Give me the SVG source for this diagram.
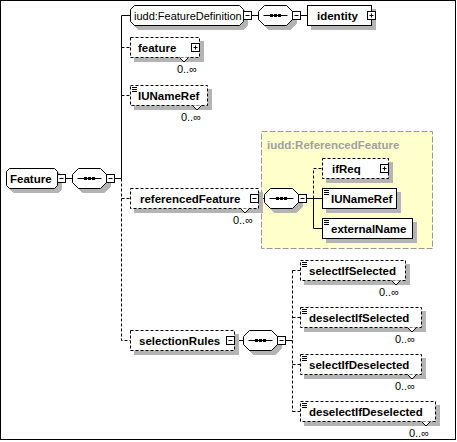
<svg xmlns="http://www.w3.org/2000/svg" width="457" height="442" viewBox="0 0 457 442">
<style>
.bx{fill:#fff;stroke:#000;stroke-width:1}
.opt{stroke-dasharray:3,2}
.sh{fill:#b4b4b4;stroke:#b4b4b4;stroke-width:1}
.ln{fill:none;stroke:#000;stroke-width:1}
.dl{stroke-dasharray:3,2}
.t{font-family:"Liberation Sans",Arial,sans-serif;font-size:11.5px;font-weight:bold;fill:#000}
.r{font-weight:normal;font-size:11px}
.occ{font-family:"Liberation Sans",Arial,sans-serif;font-size:11px;text-anchor:end;fill:#000}
.v{fill:#fff;stroke:#000;stroke-width:1}
.grp{fill:#ffffcc;stroke:#999;stroke-width:1;stroke-dasharray:6,2}
.gt{font-family:"Liberation Sans",Arial,sans-serif;font-size:11.5px;font-weight:bold;fill:#a0a0a0}
</style>
<defs>
<g id="mn"><rect x="0" y="0" width="8" height="8" fill="#fff" stroke="#000"/><path d="M2 4H6" stroke="#000"/></g>
<g id="pl"><rect x="0" y="0" width="8" height="8" fill="#fff" stroke="#000"/><path d="M2 4H6M4 2V6" stroke="#000"/></g>
<g id="seq">
<polygon class="sh" transform="translate(4,4)" points="6,0 28,0 34,6 34,14 28,20 6,20 0,14 0,6"/>
<polygon class="bx" points="6,0 28,0 34,6 34,14 28,20 6,20 0,14 0,6"/>
<path d="M5 10H29" stroke="#000"/>
<rect x="11.5" y="8.5" width="3" height="3" fill="#000"/>
<rect x="15.5" y="8.5" width="3" height="3" fill="#000"/>
<rect x="19.5" y="8.5" width="3" height="3" fill="#000"/>
</g>
<path id="eq" d="M0 0H5M0 2H5M0 4H5" stroke="#000" fill="none"/>
</defs>
<rect x="0" y="0" width="457" height="442" fill="#fff"/>
<rect x="0.5" y="0.5" width="455" height="439" fill="#fff" stroke="#000"/>

<g id="group-ReferencedFeature">
<rect class="grp" x="261.5" y="131.5" width="171" height="117"/>
<text class="gt" x="267" y="149">iudd:ReferencedFeature</text>
</g>

<g id="connectors">
<path class="ln" d="M65.5 178.5H72.5M114.5 178.5H121.5M121.5 178.5V15.5H130.5"/>
<path class="ln dl" d="M121.5 178.5V340.5H130.5M121.5 47.5H130.5M121.5 95.5H130.5M121.5 198.5H130.5"/>
<path class="ln" d="M251.5 15.5H258.5M300.5 15.5H307.5"/>
<path class="ln" d="M258.5 198.5H264.5M306.5 198.5H322.5M313.5 198.5V228.5H322.5"/>
<path class="ln dl" d="M313.5 198.5V168.5H322.5"/>
<path class="ln" d="M234.5 340.5H243.5M285.5 340.5H292.5"/>
<path class="ln dl" d="M292.5 270.5V411.5M292.5 270.5H300.5M292.5 317.5H300.5M292.5 364.5H300.5M292.5 411.5H300.5"/>
</g>

<g id="node-Feature">
<path class="sh" transform="translate(4,4)" d="M9.5 168.5H54.5L57.5 171.5V185.5L54.5 188.5H9.5L6.5 185.5V171.5Z"/>
<path class="bx" d="M9.5 168.5H54.5L57.5 171.5V185.5L54.5 188.5H9.5L6.5 185.5V171.5Z"/>
<text class="t" x="10" y="182.5">Feature</text>
<use href="#mn" x="57.5" y="174.5"/>
</g>
<g id="node-sequence-main">
<use href="#seq" x="72.5" y="168.5"/>
<use href="#mn" x="106.5" y="174.5"/>
</g>

<g id="node-FeatureDefinition">
<path class="sh" transform="translate(4,4)" d="M134.5 5.5H239.5L243.5 9.5V21.5L239.5 25.5H134.5L130.5 21.5V9.5Z"/>
<path class="bx" d="M134.5 5.5H239.5L243.5 9.5V21.5L239.5 25.5H134.5L130.5 21.5V9.5Z"/>
<text class="t r" x="134" y="19.5">iudd:FeatureDefinition</text>
<use href="#mn" x="243.5" y="11.5"/>
</g>
<g id="node-sequence-FeatureDefinition">
<use href="#seq" x="258.5" y="5.5"/>
<use href="#mn" x="292.5" y="11.5"/>
</g>
<g id="node-identity">
<rect class="sh" x="311.5" y="9.5" width="64" height="20"/>
<rect class="bx" x="307.5" y="5.5" width="64" height="20"/>
<text class="t" x="317" y="19.5">identity</text>
<use href="#pl" x="367.5" y="11.5"/>
</g>

<g id="node-feature">
<rect class="sh" x="134.5" y="41.5" width="69" height="20"/>
<rect class="bx opt" x="130.5" y="37.5" width="69" height="20"/>
<text class="t" x="138" y="51.5">feature</text>
<use href="#pl" x="191.5" y="43.5"/>
<path class="v" d="M179.5 57.5L184 62L188.5 57.5"/>
<text class="occ" x="197" y="72.5">0..∞</text>
</g>

<g id="node-IUNameRef">
<rect class="sh" x="134.5" y="89.5" width="77" height="20"/>
<rect class="bx opt" x="130.5" y="85.5" width="77" height="20"/>
<use href="#eq" x="132" y="87.5"/>
<text class="t" x="138" y="99.5">IUNameRef</text>
<path class="v" d="M192.5 105.5L197 110L201.5 105.5"/>
<text class="occ" x="201" y="120.5">0..∞</text>
</g>

<g id="node-referencedFeature">
<rect class="sh" x="134.5" y="192.5" width="128" height="20"/>
<rect class="bx opt" x="130.5" y="188.5" width="128" height="20"/>
<text class="t" x="140" y="202.5">referencedFeature</text>
<use href="#mn" x="250.5" y="194.5"/>
<path class="v" d="M240.5 208.5L245 213L249.5 208.5"/>
<text class="occ" x="253" y="223.5">0..∞</text>
</g>
<g id="node-sequence-ReferencedFeature">
<use href="#seq" x="264.5" y="188.5"/>
<use href="#mn" x="298.5" y="194.5"/>
</g>
<g id="node-ifReq">
<rect class="sh" x="326.5" y="162.5" width="66" height="20"/>
<rect class="bx opt" x="322.5" y="158.5" width="66" height="20"/>
<text class="t" x="332" y="172.5">ifReq</text>
<use href="#pl" x="380.5" y="164.5"/>
</g>
<g id="node-IUNameRef-2">
<rect class="sh" x="326.5" y="192.5" width="74" height="20"/>
<rect class="bx" x="322.5" y="188.5" width="74" height="20"/>
<use href="#eq" x="324" y="190.5"/>
<text class="t" x="331" y="202.5">IUNameRef</text>
</g>
<g id="node-externalName">
<rect class="sh" x="326.5" y="222.5" width="90" height="20"/>
<rect class="bx" x="322.5" y="218.5" width="90" height="20"/>
<use href="#eq" x="324" y="220.5"/>
<text class="t" x="331" y="232.5">externalName</text>
</g>

<g id="node-selectionRules">
<rect class="sh" x="134.5" y="334.5" width="104" height="20"/>
<rect class="bx opt" x="130.5" y="330.5" width="104" height="20"/>
<text class="t" x="139" y="344.5">selectionRules</text>
<use href="#mn" x="226.5" y="336.5"/>
</g>
<g id="node-sequence-selectionRules">
<use href="#seq" x="243.5" y="330.5"/>
<use href="#mn" x="277.5" y="336.5"/>
</g>

<g id="node-selectIfSelected">
<rect class="sh" x="304.5" y="264.5" width="105" height="20"/>
<rect class="bx opt" x="300.5" y="260.5" width="105" height="20"/>
<use href="#eq" x="302" y="262.5"/>
<text class="t" x="309" y="274.5">selectIfSelected</text>
<path class="v" d="M391.5 280.5L396 285L400.5 280.5"/>
<text class="occ" x="399" y="295.5">0..∞</text>
</g>
<g id="node-deselectIfSelected">
<rect class="sh" x="304.5" y="311.5" width="121" height="20"/>
<rect class="bx opt" x="300.5" y="307.5" width="121" height="20"/>
<use href="#eq" x="302" y="309.5"/>
<text class="t" x="309" y="321.5">deselectIfSelected</text>
<path class="v" d="M407.5 327.5L412 332L416.5 327.5"/>
<text class="occ" x="415" y="342.5">0..∞</text>
</g>
<g id="node-selectIfDeselected">
<rect class="sh" x="304.5" y="358.5" width="121" height="20"/>
<rect class="bx opt" x="300.5" y="354.5" width="121" height="20"/>
<use href="#eq" x="302" y="356.5"/>
<text class="t" x="309" y="368.5">selectIfDeselected</text>
<path class="v" d="M407.5 374.5L412 379L416.5 374.5"/>
<text class="occ" x="415" y="389.5">0..∞</text>
</g>
<g id="node-deselectIfDeselected">
<rect class="sh" x="304.5" y="405.5" width="135" height="20"/>
<rect class="bx opt" x="300.5" y="401.5" width="135" height="20"/>
<use href="#eq" x="302" y="403.5"/>
<text class="t" x="309" y="415.5">deselectIfDeselected</text>
<path class="v" d="M421.5 421.5L426 426L430.5 421.5"/>
<text class="occ" x="429" y="436.5">0..∞</text>
</g>
</svg>
